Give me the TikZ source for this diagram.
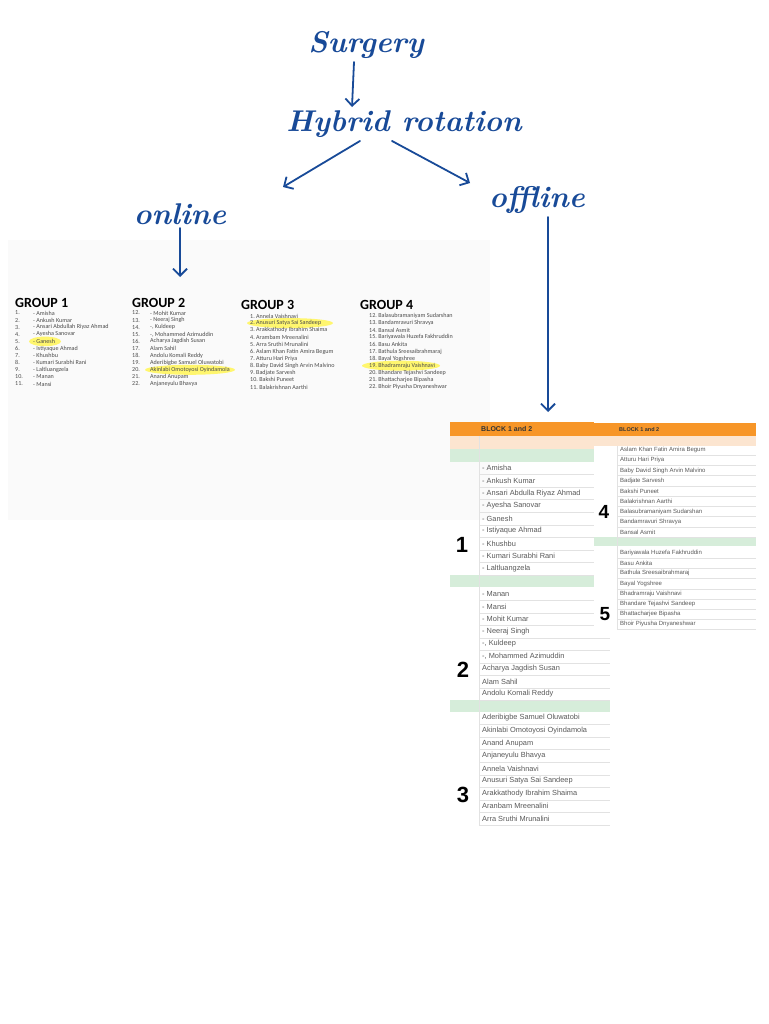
\documentclass[tikz,border=0pt]{standalone}
\usepackage{fontspec}
\newfontfamily\slidefont{Carlito}
\newfontfamily\sheetfont{Liberation Sans}
\usetikzlibrary{arrows.meta}

\definecolor{ink}{RGB}{24,74,152}
\definecolor{sheetorange}{RGB}{247,150,40}
\definecolor{sheetpeach}{RGB}{252,229,208}
\definecolor{sheetmint}{RGB}{214,237,218}
\definecolor{marker}{RGB}{255,246,110}
\definecolor{sheetline}{RGB}{226,226,226}

\tikzset{
  hand/.style={ink, font=\fontsize{30}{30}\selectfont\bfseries\itshape},
  handarrow/.style={ink, line width=1.8pt, line cap=round,
    -{Straight Barb[length=7pt,width=14pt,line width=1.8pt]}},
  grouphead/.style={anchor=west, inner sep=0pt, font=\slidefont\bfseries\fontsize{14}{14}\selectfont},
  groupname/.style={anchor=west, inner sep=0pt, text=black!70, font=\slidefont\fontsize{6.1}{7}\selectfont},
  cellname/.style={anchor=west, inner sep=0pt, text=black!65, font=\sheetfont\fontsize{7.4}{8}\selectfont},
  smallcell/.style={anchor=west, inner sep=0pt, text=black!65, font=\sheetfont\fontsize{6}{7}\selectfont},
  blocknum/.style={inner sep=0pt, font=\sheetfont\bfseries\fontsize{22}{22}\selectfont},
  blockhead/.style={anchor=west, inner sep=0pt, text=black!80, font=\sheetfont\bfseries\fontsize{7}{8}\selectfont},
}

\begin{document}
\begin{tikzpicture}[x=1pt,y=-1pt]
\useasboundingbox (0,0) rectangle (768,1024);
\fill[white] (0,0) rectangle (768,1024);
\fill[gray!4] (8,240) rectangle (490,520);

% handwritten notes
\node[hand] (surgery) at (366,45) {Surgery};
\node[hand] (hybrid) at (404,124) {Hybrid rotation};
\node[hand] (online) at (180,214) {online};
\node[hand] (offline) at (537,200) {offline};
\coordinate (onlineTip) at (283,187);
\coordinate (offlineTip) at (470,183);
\coordinate (groupTip) at (180,277);
\coordinate (blockTip) at (548,412);

\draw[handarrow] ([xshift=-12pt]surgery.south) -- ([xshift=-52pt]hybrid.north);
\draw[handarrow] ([xshift=-44pt]hybrid.south) -- (onlineTip);
\draw[handarrow] ([xshift=-12pt]hybrid.south) -- (offlineTip);
\draw[handarrow] (online.south) -- (groupTip);
\draw[handarrow] ([xshift=11pt]offline.south) -- (blockTip);

% highlighter marks
\fill[marker] (45,341.4) ellipse (16 and 4.8);
\fill[marker] (190,369.8) ellipse (45 and 5);
\fill[marker] (290,323.1) ellipse (43 and 5);
\fill[marker] (401,365.7) ellipse (39 and 5);

% online groups
\node[grouphead] (group1) at (15,303) {GROUP 1};
\node[grouphead] (group2) at (132,303) {GROUP 2};
\node[grouphead] (group3) at (241,305) {GROUP 3};
\node[grouphead] (group4) at (360,305) {GROUP 4};

\foreach \who [count=\i] in {- Amisha, - Ankush Kumar, - Ansari Abdullah Riyaz Ahmad,
  - Ayesha Sanovar, - Ganesh, - Istiyaque Ahmad, - Khushbu, - Kumari Surabhi Rani,
  - Laltluangzela, - Manan, - Mansi} {
  \node[groupname] (g1num\i) at (15,{305.9+7.1*\i}) {\i.};
  \node[groupname] (g1who\i) at (33,{305.9+7.1*\i}) {\who};
}
\foreach \who [count=\i] in {- Mohit Kumar, - Neeraj Singh, {-, Kuldeep}, {-, Mohammed Azimuddin},
  Acharya Jagdish Susan, Alam Sahil, Andolu Komali Reddy, Aderibigbe Samuel Oluwatobi,
  Akinlabi Omotoyosi Oyindamola, Anand Anupam, Anjaneyulu Bhavya} {
  \pgfmathtruncatemacro\n{\i+11}
  \node[groupname] (g2num\i) at (132,{305.9+7.1*\i}) {\n.};
  \node[groupname] (g2who\i) at (150,{305.9+7.1*\i}) {\who};
}
\foreach \who [count=\i] in {Annela Vaishnavi, Anusuri Satya Sai Sandeep, Arakkathody Ibrahim Shaima,
  Arambam Mreenalini, Arra Sruthi Mrunalini, Aslam Khan Fatin Amira Begum, Atturu Hari Priya,
  Baby David Singh Arvin Malvino, Badjate Sarvesh, Bakshi Puneet, Balakrishnan Aarthi} {
  \node[groupname] (g3who\i) at (250,{308.9+7.1*\i}) {\i.\ \who};
}
\foreach \who [count=\i] in {Balasubramaniyam Sudarshan, Bandamravuri Shravya, Bansal Asmit,
  Bariyawala Huzefa Fakhruddin, Basu Ankita, Bathula Sreesaibrahmaraj, Bayal Yogshree,
  Bhadramraju Vaishnavi, Bhandare Tejashvi Sandeep, Bhattacharjee Bipasha, Bhoir Piyusha Dnyaneshwar} {
  \pgfmathtruncatemacro\n{\i+11}
  \node[groupname] (g4who\i) at (369,{308.9+7.1*\i}) {\n.\ \who};
}

% offline sheet, blocks 1--3
\fill[sheetorange] (450,422) rectangle (610,436);
\fill[sheetpeach] (450,436) rectangle (610,449);
\fill[sheetmint] (450,449) rectangle (610,462);
\fill[sheetmint] (450,575) rectangle (610,587);
\fill[sheetmint] (450,700) rectangle (610,712);
\draw[sheetline] (479,436) -- (479,826);
\node[blockhead] (blockA) at (481,429) {BLOCK 1 and 2};

\foreach \who [count=\i] in {- Amisha, - Ankush Kumar, - Ansari Abdulla Riyaz Ahmad, - Ayesha Sanovar,
  - Ganesh, - Istiyaque Ahmad, - Khushbu, - Kumari Surabhi Rani, - Laltluangzela} {
  \node[cellname] (b1row\i) at (482,{455.4+12.6*\i}) {\who};
  \draw[sheetline] (479,{461.7+12.6*\i}) -- (610,{461.7+12.6*\i});
}
\foreach \who [count=\i] in {- Manan, - Mansi, - Mohit Kumar, - Neeraj Singh, {-, Kuldeep},
  {-, Mohammed Azimuddin}, Acharya Jagdish Susan, Alam Sahil, Andolu Komali Reddy} {
  \node[cellname] (b2row\i) at (482,{581.5+12.5*\i}) {\who};
  \draw[sheetline] (479,{587.8+12.5*\i}) -- (610,{587.8+12.5*\i});
}
\foreach \who [count=\i] in {Aderibigbe Samuel Oluwatobi, Akinlabi Omotoyosi Oyindamola, Anand Anupam,
  Anjaneyulu Bhavya, Annela Vaishnavi, Anusuri Satya Sai Sandeep, Arakkathody Ibrahim Shaima,
  Aranbam Mreenalini, Arra Sruthi Mrunalini} {
  \node[cellname] (b3row\i) at (482,{705.4+12.6*\i}) {\who};
  \draw[sheetline] (479,{711.7+12.6*\i}) -- (610,{711.7+12.6*\i});
}
\node[blocknum] (num1) at (462,545) {1};
\node[blocknum] (num2) at (463,670) {2};
\node[blocknum] (num3) at (463,795) {3};

% offline sheet, blocks 4--5
\fill[white] (594,422) rectangle (756,632);
\fill[sheetorange] (594,423) rectangle (756,436);
\fill[sheetpeach] (594,436) rectangle (756,446);
\fill[sheetmint] (594,537) rectangle (756,546);
\draw[sheetline] (617,446) -- (617,630);
\node[blockhead, font=\sheetfont\bfseries\fontsize{5.5}{6}\selectfont] (blockB) at (619,429.5) {BLOCK 1 and 2};

\foreach \who [count=\i] in {Aslam Khan Fatin Amira Begum, Atturu Hari Priya, Baby David Singh Arvin Malvino,
  Badjate Sarvesh, Bakshi Puneet, Balakrishnan Aarthi, Balasubramaniyam Sudarshan,
  Bandamravuri Shravya, Bansal Asmit} {
  \node[smallcell] (b4row\i) at (620,{439.75+10.25*\i}) {\who};
  \draw[sheetline] (617,{444.9+10.25*\i}) -- (756,{444.9+10.25*\i});
}
\foreach \who [count=\i] in {Bariyawala Huzefa Fakhruddin, Basu Ankita, Bathula Sreesaibrahmaraj,
  Bayal Yogshree, Bhadramraju Vaishnavi, Bhandare Tejashvi Sandeep, Bhattacharjee Bipasha,
  Bhoir Piyusha Dnyaneshwar} {
  \node[smallcell] (b5row\i) at (620,{542.8+10.2*\i}) {\who};
  \draw[sheetline] (617,{547.9+10.2*\i}) -- (756,{547.9+10.2*\i});
}
\node[blocknum, font=\sheetfont\bfseries\fontsize{19}{19}\selectfont] (num4) at (604,512) {4};
\node[blocknum, font=\sheetfont\bfseries\fontsize{19}{19}\selectfont] (num5) at (605,614) {5};
\end{tikzpicture}
\end{document}
